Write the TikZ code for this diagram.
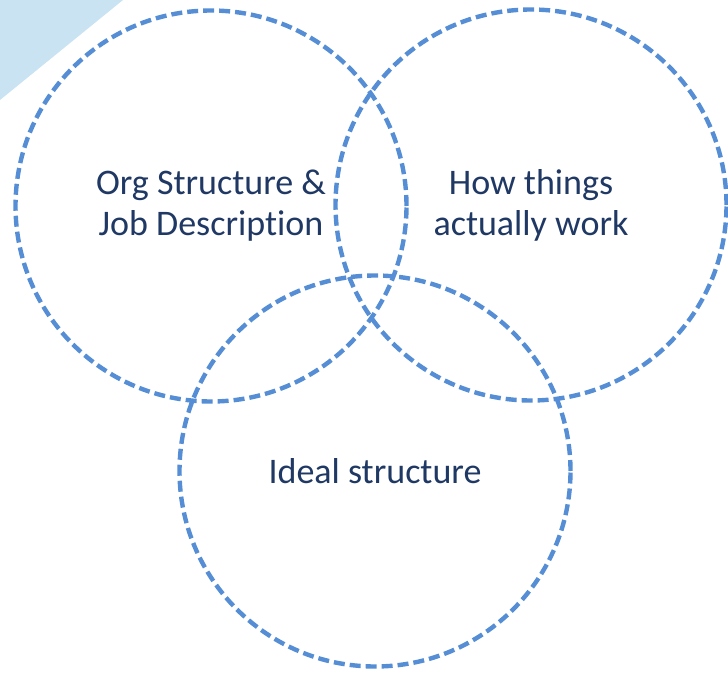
\documentclass[tikz,border=0pt]{standalone}
\usepackage{fontspec}
\setmainfont{Carlito}[Ligatures=NoCommon]
\definecolor{ringblue}{HTML}{558ED5}
\definecolor{textnavy}{HTML}{1F3864}
\definecolor{cornerblue}{HTML}{C9E3F2}
\tikzstyle{ring}=[circle,draw=ringblue,line width=4.4pt,dash pattern=on 11pt off 5pt,minimum size=391pt,inner sep=0pt,align=center,text=textnavy,font=\fontsize{36}{41}\selectfont]

\begin{document}
\begin{tikzpicture}[x=1pt,y=-1pt]
			\useasboundingbox (0,0) rectangle (728,674);
			% corner shading
			\fill[cornerblue] (0,0) -- (123,0) -- (0,100) -- cycle;
			% the three sets
			\node[ring] (org) at (211,206) {Org Structure \&\\Job Description};
			\node[ring] (how) at (531,205) {How things\\actually work};
			\node[ring] (ideal) at (375,471) {Ideal structure};
		\end{tikzpicture}
\end{document}
